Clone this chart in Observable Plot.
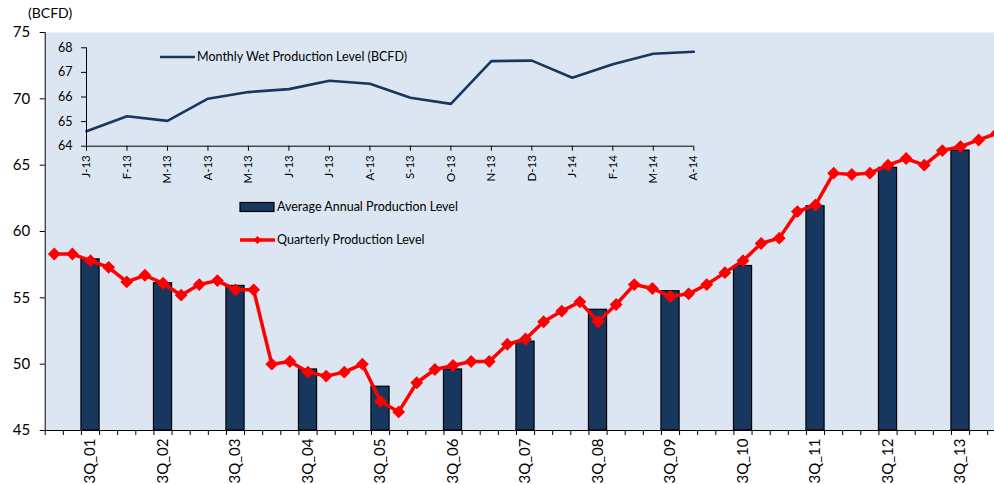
<!DOCTYPE html>
<html><head><meta charset="utf-8">
<script src="https://cdn.jsdelivr.net/npm/d3@7"></script>
<script src="https://cdn.jsdelivr.net/npm/@observablehq/plot@0.6"></script>
<style>
html,body{margin:0;padding:0;background:#fff;overflow:hidden;}
#wrap{position:relative;width:994px;height:484px;overflow:hidden;font-family:Lato,"Open Sans",sans-serif;color:#000;}
#wrap > svg{position:absolute;left:0;top:0;}
.leg{position:absolute;white-space:nowrap;line-height:16px;height:16px;}
.sw{position:absolute;}
</style></head><body><div id="wrap"></div>
<script>
// ---- data ----
const years = ["01","02","03","04","05","06","07","08","09","10","11","12","13","14"];
const qNames = ["1Q","2Q","3Q","4Q"];
const quarters = [];
for (const y of years) for (const q of qNames) quarters.push(q + "_" + y);
quarters.length = 53; // 1Q_01 .. 1Q_14

const quarterly = [
  58.3, 58.3, 57.8, 57.3, 56.2, 56.7, 56.1, 55.2, 56.0, 56.3,
  55.6, 55.6, 50.0, 50.2, 49.4, 49.1, 49.4, 50.0, 47.2, 46.4,
  48.6, 49.6, 49.9, 50.2, 50.2, 51.5, 51.9, 53.2, 54.0, 54.7,
  53.2, 54.5, 56.0, 55.7, 55.1, 55.3, 56.0, 56.9, 57.8, 59.1,
  59.5, 61.5, 62.0, 64.4, 64.3, 64.4, 65.0, 65.5, 65.0, 66.1,
  66.4, 66.9, 67.4
];
const annualLabels = ["3Q_01","3Q_02","3Q_03","3Q_04","3Q_05","3Q_06","3Q_07","3Q_08","3Q_09","3Q_10","3Q_11","3Q_12","3Q_13"];
const annual = [57.9, 56.1, 55.9, 49.6, 48.3, 49.6, 51.7, 54.1, 55.5, 57.4, 61.9, 64.8, 66.1];

const months = ["J-13","F-13","M-13","A-13","M-13","J-13","J-13","A-13","S-13","O-13","N-13","D-13","J-14","F-14","M-14","A-14"];
const monthly = [64.61, 65.22, 65.03, 65.93, 66.2, 66.32, 66.66, 66.54, 65.97, 65.72, 67.46, 67.48, 66.78, 67.33, 67.76, 67.84];

const yTicks = [45, 50, 55, 60, 65, 70, 75];
const yMin = 45, yMax = 75;
const insetTicks = [64, 65, 66, 67, 68];
const insetMin = 64, insetMax = 68;

// ---- tables ----
const qRows = quarterly.map((v, i) => ({i, q: quarters[i], v}));
const aRows = annual.map((v, k) => ({i: quarters.indexOf(annualLabels[k]), q: annualLabels[k], v}));
const labelIdx = aRows.map(d => d.i);
const boundaries = d3.range(-0.5, quarters.length, 1);
const mRows = monthly.map((v, i) => ({i, m: months[i], v}));

const navy = "#17375e", red = "#ff0000", bg = "#dce6f2";
const font = "Lato, 'Open Sans', sans-serif";

const main = Plot.plot({
  width: 994, height: 484,
  marginLeft: 44.7, marginRight: 0, marginTop: 32, marginBottom: 54,
  style: {fontFamily: font, fontSize: "15px", background: "transparent", overflow: "hidden", color: "#000"},
  x: {type: "linear", domain: [-0.5, quarters.length - 0.5], range: [44.7, 44.7 + 18.125 * quarters.length], label: null},
  y: {domain: [yMin, yMax], label: null},
  marks: [
    Plot.frame({fill: bg, stroke: null}),
    Plot.rectY(aRows, {x1: d => d.i - 0.5, x2: d => d.i + 0.5, y1: yMin, y2: "v", fill: navy, stroke: "#000", strokeWidth: 1.2}),
    Plot.lineY(qRows, {x: "i", y: "v", stroke: red, strokeWidth: 3.5}),
    Plot.dot(qRows, {x: "i", y: "v", symbol: "diamond2", r: 5.8, fill: red, stroke: null}),
    Plot.ruleX([-0.5], {stroke: "#000"}),
    Plot.ruleY([yMin], {stroke: "#000"}),
    Plot.axisY({ticks: yTicks, tickSize: 5, tickPadding: 10, fontSize: 15, tickFormat: "d", label: null}),
    Plot.axisX({ticks: boundaries, tickSize: 5, tickFormat: () => "", label: null}),
    Plot.axisX({ticks: labelIdx, tickSize: 0, tickPadding: 8, tickRotate: -90, fontSize: 15, tickFormat: i => quarters[i], label: null})
  ]
});

const inset = Plot.plot({
  width: 994, height: 484,
  marginLeft: 86, marginRight: 994 - 693.3, marginTop: 47.3, marginBottom: 484 - 145.7,
  style: {fontFamily: font, fontSize: "12px", background: "transparent", overflow: "visible", color: "#000"},
  x: {domain: [0, months.length - 1], label: null},
  y: {domain: [insetMin, insetMax], label: null},
  marks: [
    Plot.lineY(mRows, {x: "i", y: "v", stroke: navy, strokeWidth: 2.6}),
    Plot.ruleX([0], {stroke: "#000"}),
    Plot.ruleY([insetMin], {stroke: "#000"}),
    Plot.axisY({ticks: insetTicks, tickSize: 5, tickPadding: 9, fontSize: 12.5, tickFormat: "d", label: null}),
    Plot.axisX({ticks: d3.range(months.length), tickSize: 5, tickPadding: 4, tickRotate: -90, fontSize: 11.5, tickFormat: i => months[i], label: null})
  ]
});

const wrap = document.getElementById("wrap");
wrap.appendChild(main);
wrap.appendChild(inset);

function addHTML(html) { wrap.insertAdjacentHTML("beforeend", html); }
addHTML(`<div class="leg" style="left:28px;top:5px;font-size:14px">(BCFD)</div>`);
addHTML(`<svg class="sw" style="left:158px;top:52px" width="40" height="10"><line x1="2" x2="37" y1="5" y2="5" stroke="${navy}" stroke-width="2.6"/></svg>`);
addHTML(`<div class="leg" style="left:197px;top:49px;font-size:12.5px">Monthly Wet Production Level (BCFD)</div>`);
addHTML(`<svg class="sw" style="left:239px;top:201px" width="37" height="12"><rect x="1" y="1.5" width="34" height="9" fill="${navy}" stroke="#000" stroke-width="1.2"/></svg>`);
addHTML(`<div class="leg" style="left:277px;top:199px;font-size:12.5px">Average Annual Production Level</div>`);
addHTML(`<svg class="sw" style="left:239px;top:234px" width="38" height="12"><line x1="1" x2="36" y1="6" y2="6" stroke="${red}" stroke-width="3.5"/><path d="M18.5,2 L22.5,6 L18.5,10 L14.5,6 Z" fill="${red}"/></svg>`);
addHTML(`<div class="leg" style="left:277px;top:232px;font-size:12.5px">Quarterly Production Level</div>`);
</script></body></html>
